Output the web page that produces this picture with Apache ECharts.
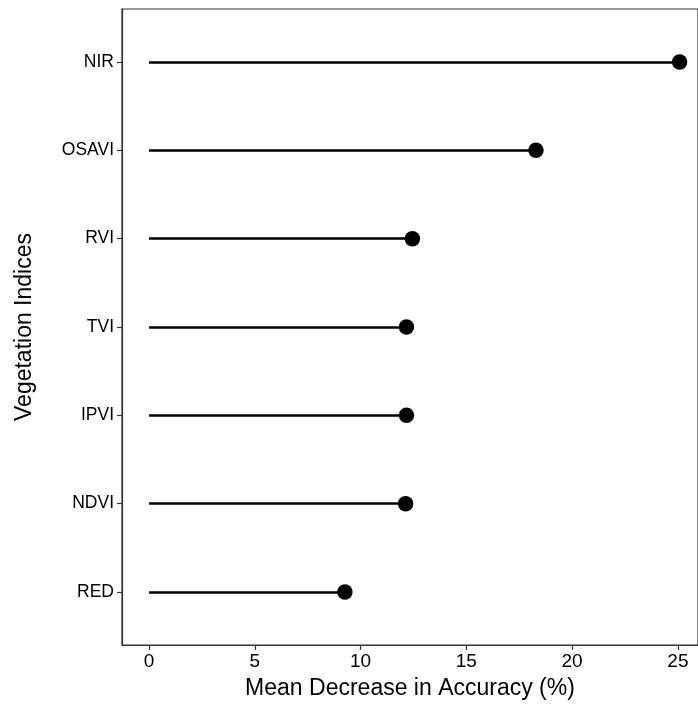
<!DOCTYPE html>
<html>
<head>
<meta charset="utf-8">
<script src="https://cdn.jsdelivr.net/npm/echarts@6/dist/echarts.min.js"></script>
<style>
  html, body { margin: 0; padding: 0; background: #fff; }
  #chart { width: 698px; height: 705px; }
</style>
</head>
<body>
<div id="chart"></div>
<script>
const indices = ['NIR', 'OSAVI', 'RVI', 'TVI', 'IPVI', 'NDVI', 'RED'];
const accuracy = [25.08, 18.29, 12.45, 12.17, 12.17, 12.13, 9.26];
const xTicks = [0, 5, 10, 15, 20, 25];

const chart = echarts.init(document.getElementById('chart'));
const font = 'Liberation Sans, Arial, sans-serif';

const stems = indices.map((name, i) => ({ coords: [[0, i], [accuracy[i], i]] }));
const dots = indices.map((name, i) => [accuracy[i], i]);

const option = {
  animation: false,
  grid: {
    left: 122, top: 9, right: -3, bottom: 59,
    show: true, borderColor: '#333', borderWidth: 1.2
  },
  xAxis: {
    type: 'value',
    min: -1.276, max: 25.95,
    name: 'Mean Decrease in Accuracy (%)',
    nameLocation: 'middle',
    nameGap: 32,
    nameTextStyle: { fontFamily: font, fontSize: 23, color: '#000' },
    splitLine: { show: false },
    axisLine: { show: true, onZero: false, lineStyle: { color: '#333', width: 1.2 } },
    axisTick: { show: true, length: 5, customValues: xTicks, lineStyle: { color: '#333', width: 1.2 } },
    axisLabel: { customValues: xTicks, margin: 7, fontFamily: font, fontSize: 19, color: '#000' }
  },
  yAxis: {
    type: 'value',
    min: -0.6, max: 6.6,
    inverse: true,
    name: 'Vegetation Indices',
    nameLocation: 'middle',
    nameGap: 86,
    nameRotate: 90,
    nameTextStyle: { fontFamily: font, fontSize: 23, color: '#000' },
    splitLine: { show: false },
    axisLine: { show: true, onZero: false, lineStyle: { color: '#333', width: 1.2 } },
    axisTick: { show: true, length: 5, customValues: [0, 1, 2, 3, 4, 5, 6], lineStyle: { color: '#333', width: 1.2 } },
    axisLabel: {
      customValues: [0, 1, 2, 3, 4, 5, 6],
      margin: 8, fontFamily: font, fontSize: 17.5, color: '#000',
      formatter: v => indices[Math.round(v)]
    }
  },
  series: [
    {
      type: 'lines',
      coordinateSystem: 'cartesian2d',
      polyline: false,
      silent: true,
      lineStyle: { color: '#000', width: 2.5, opacity: 1 },
      data: stems
    },
    {
      type: 'scatter',
      symbol: 'circle',
      symbolSize: 15.5,
      itemStyle: { color: '#000', opacity: 1 },
      data: dots
    }
  ]
};

chart.setOption(option);
</script>
</body>
</html>
